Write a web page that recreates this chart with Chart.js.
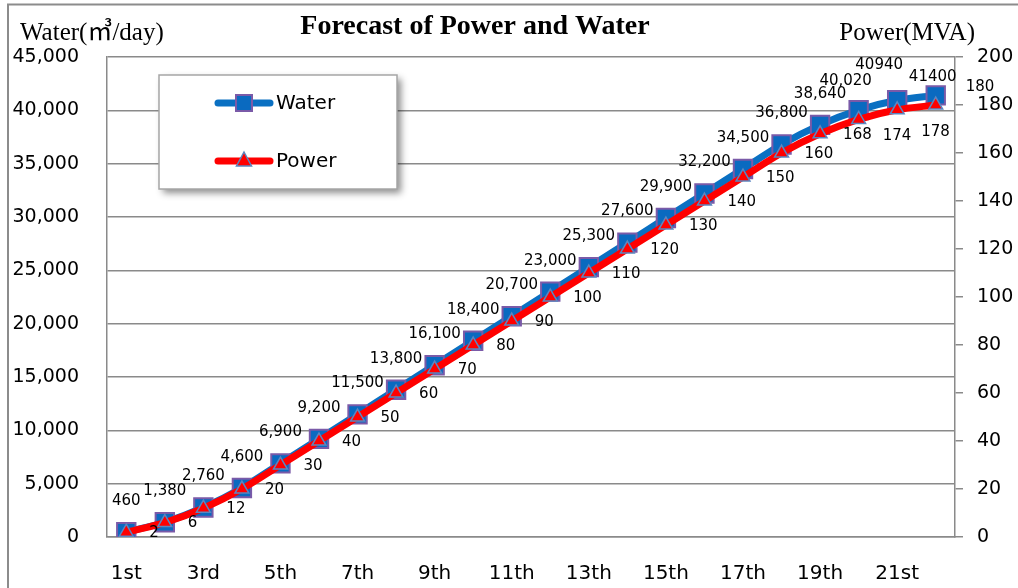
<!DOCTYPE html>
<html>
<head>
<meta charset="utf-8">
<script src="https://cdn.jsdelivr.net/npm/chart.js@4/dist/chart.umd.min.js"></script>
<style>
  html, body { margin: 0; padding: 0; background: #ffffff; }
  #wrap { width: 1018px; height: 588px; position: relative; }
</style>
</head>
<body>
<div id="wrap"><canvas id="chart" width="1018" height="588"></canvas></div>
<script>
// Forecast periods and the two series
const categories = ['1st','2nd','3rd','4th','5th','6th','7th','8th','9th','10th','11th',
  '12th','13th','14th','15th','16th','17th','18th','19th','20th','21st','22nd'];
const waterValues = [460, 1380, 2760, 4600, 6900, 9200, 11500, 13800, 16100, 18400, 20700,
  23000, 25300, 27600, 29900, 32200, 34500, 36800, 38640, 40020, 40940, 41400];
const powerValues = [2, 6, 12, 20, 30, 40, 50, 60, 70, 80, 90,
  100, 110, 120, 130, 140, 150, 160, 168, 174, 178, 180];

// Axis ranges
const waterAxis = { min: 0, max: 45000, step: 5000 };
const powerAxis = { min: 0, max: 200, step: 20 };

const SANS = '"DejaVu Sans", "Noto Sans", sans-serif';
const SERIF = '"Liberation Serif", "DejaVu Serif", "Noto Sans CJK JP", serif';
const GRID = '#8a8a8a';

const WATER_LINE = '#0A70C2';
const WATER_FILL = '#0A6AC0';
const WATER_EDGE = '#7A5AA8';
const POWER_LINE = '#FF0000';
const POWER_EDGE = '#5B86C0';

// Value-label placement: water above its point, power to the right
const waterNudge = { 19: [-13, -29], 20: [-18, -35], 21: [-3, -18] };
const powerNudge = { 19: [24, 17], 20: [24, 22], 21: [30, -18] };
const waterNoSeparator = [20, 21];

const fmt = v => v.toLocaleString('en-US');

const frame = {
  id: 'frame',
  beforeDraw(chart) {
    const ctx = chart.ctx;
    ctx.save();
    ctx.fillStyle = '#ffffff';
    ctx.fillRect(0, 0, chart.width, chart.height);
    ctx.restore();
  },
  afterDraw(chart) {
    const ctx = chart.ctx;
    ctx.save();
    // outer border
    ctx.strokeStyle = '#8c8c8c';
    ctx.lineWidth = 2;
    ctx.beginPath();
    ctx.moveTo(8, chart.height + 2);
    ctx.lineTo(8, 4.5);
    ctx.lineTo(chart.width + 2, 4.5);
    ctx.stroke();
    // titles
    ctx.fillStyle = '#000';
    ctx.textBaseline = 'middle';
    ctx.textAlign = 'center';
    ctx.font = 'bold 28px ' + SERIF;
    ctx.fillText('Forecast of Power and Water', 475, 27);
    ctx.textAlign = 'left';
    ctx.font = '25px ' + SERIF;
    ctx.fillText('Water(㎥/day)', 20, 33);
    ctx.textAlign = 'right';
    ctx.fillText('Power(MVA)', 975, 33);
    ctx.restore();
  }
};

function drawMarker(ctx, style, x, y) {
  ctx.save();
  if (style === 'rect') {
    ctx.fillStyle = WATER_FILL;
    ctx.strokeStyle = WATER_EDGE;
    ctx.lineWidth = 2;
    ctx.fillRect(x - 8, y - 8, 16, 16);
    ctx.strokeRect(x - 8, y - 8, 16, 16);
  } else {
    ctx.fillStyle = POWER_LINE;
    ctx.strokeStyle = POWER_EDGE;
    ctx.lineWidth = 1.5;
    ctx.beginPath();
    ctx.moveTo(x, y - 9);
    ctx.lineTo(x + 7.5, y + 5);
    ctx.lineTo(x - 7.5, y + 5);
    ctx.closePath();
    ctx.fill();
    ctx.stroke();
  }
  ctx.restore();
}

const legendBox = {
  id: 'legendBox',
  beforeDatasetsDraw(chart) {
    const ctx = chart.ctx;
    const bx = 159, by = 75, bw = 238, bh = 114;
    ctx.save();
    ctx.shadowColor = 'rgba(0,0,0,0.45)';
    ctx.shadowBlur = 7;
    ctx.shadowOffsetX = 4;
    ctx.shadowOffsetY = 4;
    ctx.fillStyle = '#ffffff';
    ctx.fillRect(bx, by, bw, bh);
    ctx.restore();
    ctx.save();
    ctx.strokeStyle = '#a6a6a6';
    ctx.lineWidth = 1.5;
    ctx.strokeRect(bx, by, bw, bh);
    const items = chart.data.datasets;
    const rows = [103, 161];
    items.forEach((ds, i) => {
      const y = rows[i];
      ctx.strokeStyle = ds.borderColor;
      ctx.lineWidth = 7;
      ctx.lineCap = 'round';
      ctx.beginPath();
      ctx.moveTo(218, y);
      ctx.lineTo(270, y);
      ctx.stroke();
      drawMarker(ctx, ds.pointStyle, 244, y);
      ctx.fillStyle = '#000';
      ctx.font = '20px ' + SANS;
      ctx.textAlign = 'left';
      ctx.textBaseline = 'middle';
      ctx.fillText(ds.label, 276, y + 1);
    });
    ctx.restore();
  }
};

const valueLabels = {
  id: 'valueLabels',
  afterDatasetsDraw(chart) {
    const ctx = chart.ctx;
    ctx.save();
    ctx.font = '15px ' + SANS;
    ctx.fillStyle = '#000';
    ctx.textBaseline = 'middle';
    chart.data.datasets.forEach((ds, di) => {
      const meta = chart.getDatasetMeta(di);
      meta.data.forEach((pt, i) => {
        const v = ds.data[i];
        if (ds.pointStyle === 'rect') {
          const txt = waterNoSeparator.includes(i) ? String(v) : fmt(v);
          const n = waterNudge[i] || [0, -31];
          ctx.textAlign = 'center';
          ctx.fillText(txt, pt.x + n[0], pt.y + n[1]);
        } else {
          const n = powerNudge[i] || [23, 1];
          ctx.textAlign = 'left';
          ctx.fillText(String(v), pt.x + n[0], pt.y + n[1]);
        }
      });
    });
    ctx.restore();
  }
};

new Chart(document.getElementById('chart'), {
  type: 'line',
  data: {
    labels: categories,
    datasets: [
      {
        label: 'Water',
        data: waterValues,
        yAxisID: 'yWater',
        borderColor: WATER_LINE,
        borderWidth: 7,
        pointStyle: 'rect',
        pointRadius: 13,
        pointBackgroundColor: WATER_FILL,
        pointBorderColor: WATER_EDGE,
        pointBorderWidth: 2,
        tension: 0.3,
        order: 1
      },
      {
        label: 'Power',
        data: powerValues,
        yAxisID: 'yPower',
        borderColor: POWER_LINE,
        borderWidth: 7,
        pointStyle: 'triangle',
        pointRadius: 8,
        pointBackgroundColor: POWER_LINE,
        pointBorderColor: POWER_EDGE,
        pointBorderWidth: 1.5,
        tension: 0.3,
        order: 0
      }
    ]
  },
  options: {
    responsive: false,
    animation: false,
    events: [],
    layout: { padding: { top: 57, left: 0, right: 0, bottom: 0 } },
    plugins: {
      legend: { display: false },
      title: { display: false },
      tooltip: { enabled: false }
    },
    scales: {
      x: {
        offset: true,
        grid: { display: false, drawTicks: false },
        border: { display: true, color: GRID, width: 1.5 },
        ticks: {
          autoSkip: false,
          maxRotation: 0,
          padding: 25,
          color: '#000',
          font: { family: SANS, size: 20 },
          callback: (val, idx) => (idx % 2 === 0 ? categories[idx] : '')
        },
        afterFit: s => { s.height = 51; }
      },
      yWater: {
        position: 'left',
        min: waterAxis.min,
        max: waterAxis.max,
        grid: { color: GRID, lineWidth: 1.5, drawTicks: false },
        border: { display: true, color: GRID, width: 1.5 },
        ticks: {
          stepSize: waterAxis.step,
          padding: 28,
          color: '#000',
          font: { family: SANS, size: 19 },
          callback: v => fmt(v)
        },
        afterFit: s => { s.width = 107; }
      },
      yPower: {
        position: 'right',
        min: powerAxis.min,
        max: powerAxis.max,
        grid: { drawOnChartArea: false, color: GRID, lineWidth: 1.5, tickLength: 8 },
        border: { display: true, color: GRID, width: 1.5 },
        ticks: {
          stepSize: powerAxis.step,
          padding: 14,
          color: '#000',
          font: { family: SANS, size: 19 }
        },
        afterFit: s => { s.width = 63; }
      }
    }
  },
  plugins: [frame, legendBox, valueLabels]
});
</script>
</body>
</html>
